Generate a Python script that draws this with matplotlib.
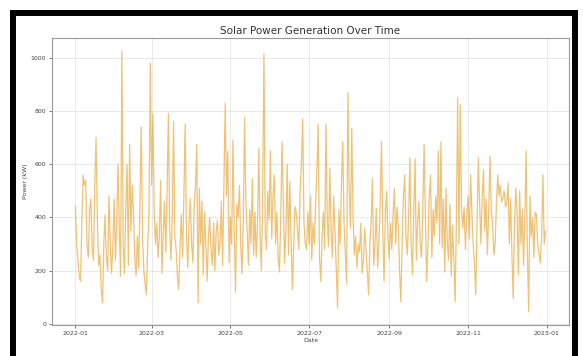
import pandas as pd
import matplotlib
matplotlib.use('Agg')
import matplotlib.pyplot as plt
import matplotlib.dates as mdates
from matplotlib.patches import Rectangle

# daily power readings (kW) for 2022, one list per month
jan = [440, 300, 240, 180, 160, 380, 560, 520, 540, 300, 250, 430, 470, 280, 240, 520,
       700, 400, 220, 260, 130, 80, 300, 410, 250, 200, 480, 300, 190, 290, 470]
feb = [240, 380, 600, 350, 180, 1025, 300, 190, 430, 600, 220, 675, 350, 520, 420, 250,
       180, 330, 210, 460, 740, 320, 200, 150, 110, 300, 420, 980]
mar = [520, 790, 420, 300, 380, 250, 330, 540, 190, 340, 460, 270, 500, 790, 360, 240,
       400, 760, 330, 280, 180, 130, 290, 410, 250, 480, 750, 340, 210, 380, 470]
apr = [300, 230, 450, 520, 675, 80, 510, 300, 460, 185, 420, 300, 160, 330, 400, 280,
       220, 380, 200, 350, 390, 260, 300, 460, 220, 520, 830, 480, 650, 230]
may = [400, 300, 690, 340, 120, 450, 400, 520, 300, 190, 380, 775, 460, 350, 220, 430,
       300, 545, 260, 420, 250, 380, 660, 330, 200, 470, 1015, 340, 280, 500, 390]
jun = [650, 320, 480, 560, 300, 420, 250, 195, 400, 685, 460, 230, 350, 600, 260, 535,
       320, 130, 290, 440, 420, 350, 280, 500, 600, 770, 380, 300, 280, 420]
jul = [300, 480, 240, 380, 300, 450, 580, 750, 250, 160, 330, 420, 280, 750, 400, 290,
       585, 350, 250, 480, 350, 200, 60, 430, 300, 520, 685, 380, 260, 150, 870]
aug = [520, 360, 735, 400, 260, 330, 210, 300, 270, 380, 190, 240, 360, 280, 200, 110,
       300, 380, 545, 220, 300, 435, 210, 300, 450, 685, 350, 160, 420, 500, 330]
sep = [245, 380, 280, 420, 510, 300, 440, 370, 200, 83, 300, 480, 560, 330, 260, 400,
       625, 300, 185, 420, 620, 240, 380, 460, 300, 250, 430, 675, 400, 160]
oct_ = [300, 480, 560, 250, 430, 330, 480, 380, 650, 300, 685, 285, 470, 195, 510, 300,
        240, 450, 180, 370, 250, 83, 380, 850, 300, 825, 430, 360, 440, 280, 400]
nov = [480, 320, 560, 420, 300, 230, 110, 380, 625, 450, 300, 480, 580, 350, 470, 260,
       420, 630, 430, 380, 260, 300, 450, 560, 480, 520, 460, 470, 500, 440]
dec = [450, 530, 300, 470, 260, 95, 380, 510, 420, 185, 500, 300, 430, 220, 400, 650,
       260, 45, 480, 330, 400, 250, 420, 410, 300, 260, 230, 330, 560, 300, 350]

power = jan + feb + mar + apr + may + jun + jul + aug + sep + oct_ + nov + dec
dates = pd.date_range('2022-01-01', periods=len(power), freq='D')

fig = plt.figure(figsize=(5.83, 3.56), dpi=100)
ax = fig.add_axes([0.089, 0.087, 0.887, 0.806])

ax.plot(dates, power, color='#e9a93a', alpha=0.7, linewidth=0.9)

ax.set_title('Solar Power Generation Over Time', fontsize=7.5, color='#333333', pad=3)
ax.set_xlabel('Date', fontsize=4.5, color='#444444', labelpad=2)
ax.set_ylabel('Power (kW)', fontsize=4.5, color='#444444', labelpad=2)

ax.xaxis.set_major_locator(mdates.MonthLocator(interval=2))
ax.xaxis.set_major_formatter(mdates.DateFormatter('%Y-%m'))
ax.set_yticks([0, 200, 400, 600, 800, 1000])
ax.tick_params(axis='both', labelsize=4.5, colors='#444444', length=2, width=0.5, pad=2)
ax.grid(alpha=0.3, linewidth=0.6)
for sp in ax.spines.values():
    sp.set_color('#999999')
    sp.set_linewidth(0.8)

# black screenshot frame around the chart
fig.patches.append(Rectangle((0.022, -0.05), 0.965, 1.013, transform=fig.transFigure,
                             fill=False, edgecolor='black', linewidth=4.3, clip_on=False))

plt.savefig('out.png', dpi=100)
plt.close()
